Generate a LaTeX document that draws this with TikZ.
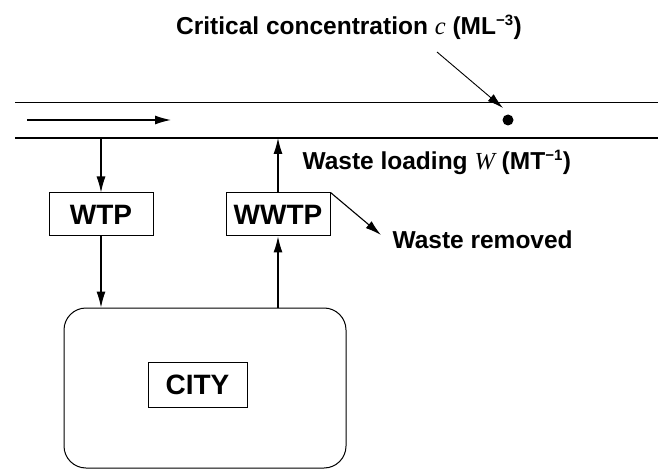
\documentclass[tikz,border=0pt]{standalone}
\usepackage{fontspec}
\setmainfont{Liberation Sans}
\newfontfamily\timesf{Liberation Serif}
\usetikzlibrary{arrows.meta}
\begin{document}
\begin{tikzpicture}[x=1pt,y=-1pt,
  line width=1.1pt,
  tip/.style={-{Latex[length=16pt,width=9pt]}},
  plant/.style={draw, line width=1pt, minimum width=104pt, minimum height=43pt, inner sep=0pt, font=\fontsize{28}{30}\selectfont\bfseries},
  lbl/.style={inner sep=0pt, font=\fontsize{24.5}{27}\selectfont\bfseries}]
\useasboundingbox (0,0) rectangle (658,470);
% river
\coordinate (rtl) at (15,102);
\coordinate (rtr) at (658,102);
\coordinate (rbl) at (15,138);
\coordinate (rbr) at (658,138);
\draw[line width=0.9pt] (rtl) -- (rtr);
\draw[line width=1.2pt] (rbl) -- (rbr);
\coordinate (fs) at (27,120);
\coordinate (fe) at (171,120);
\draw[tip, line width=1.3pt] (fs) -- (fe);
% nodes
\node[plant] (wtp) at (101,214.5) {WTP};
\node[plant] (wwtp) at (278,214.5) {WWTP};
\node[draw, line width=1pt, rounded corners=22pt, minimum width=282pt, minimum height=160pt] (city) at (205,388) {};
\node[plant, minimum width=99pt, minimum height=45pt] (cityl) at (197.5,384.5) {CITY};
% connectors
\draw[tip] (wtp.north |- rbl) -- (wtp.north);
\draw[tip] (wtp.south) -- (wtp.south |- city.north);
\draw[tip] (wwtp.south |- city.north) -- (wwtp.south);
\draw[tip] (wwtp.north) -- (wwtp.north |- rbl);
\coordinate (wrend) at (381,235);
\draw[tip] (wwtp.north east) -- (wrend);
% labels
\node[lbl, anchor=west] (wr) at (392,240) {Waste removed};
\node[lbl, anchor=west] (wl) at (302,162) {Waste loading {\timesf\itshape\mdseries W} (MT\textsuperscript{\fontsize{15}{15}\selectfont −1})};
\node[lbl] (cc) at (349,27) {Critical concentration {\timesf\itshape\mdseries c} (ML\textsuperscript{\fontsize{15}{15}\selectfont −3})};
% critical point
\node[circle, fill=black, inner sep=0pt, minimum size=11pt] (dot) at (508,120) {};
\coordinate (ps) at (437,52);
\coordinate (pe) at (503,108);
\draw[tip, line width=0.9pt] (ps) -- (pe);
\end{tikzpicture}
\end{document}
